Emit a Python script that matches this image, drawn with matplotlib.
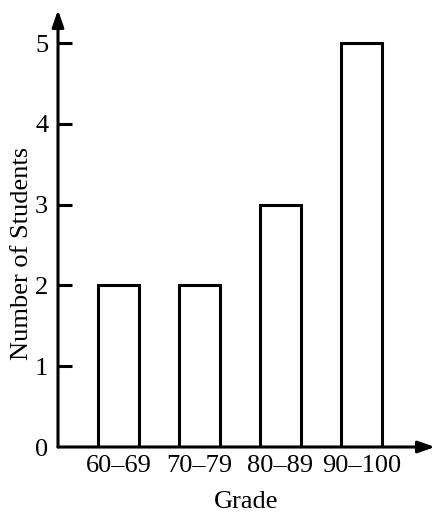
import matplotlib.pyplot as plt
import numpy as np

# データ
grades = ['60–69', '70–79', '80–89', '90–100']
students = [2, 2, 3, 5]
y_ticks = [0, 1, 2, 3, 4, 5]

plt.rcParams['font.family'] = ['Liberation Serif', 'DejaVu Serif']

fig = plt.figure(figsize=(4.42, 5.16), dpi=100)
ax = fig.add_axes([58 / 442, (516 - 447) / 516, (435 - 58) / 442, (447 - 10) / 516])

x = np.arange(len(grades))
ax.bar(x, students, width=0.5, facecolor='white', edgecolor='black', linewidth=2.2)

ax.set_xlim(-0.747, 3.907)
ax.set_ylim(0, 5.41)

# 軸は矢印で描く
for s in ax.spines.values():
    s.set_visible(False)
arrow = dict(arrowstyle='-|>,head_length=1.0,head_width=0.35', color='black', lw=2.2,
             shrinkA=0, shrinkB=0)
ax.annotate('', xy=(1.0, 0), xytext=(0, 0), xycoords='axes fraction', arrowprops=arrow)
ax.annotate('', xy=(0, 1.0), xytext=(0, 0), xycoords='axes fraction', arrowprops=arrow)

ax.set_xticks(x)
ax.set_xticklabels(grades)
ax.set_yticks(y_ticks)
ax.tick_params(axis='x', length=0, pad=6, labelsize=19)
ax.tick_params(axis='y', direction='in', length=10, width=2.2, pad=7, labelsize=19)
ax.yaxis.get_major_ticks()[0].tick1line.set_visible(False)

ax.set_xlabel('Grade', fontsize=19, labelpad=10)
ax.set_ylabel('Number of Students', fontsize=19)
ax.yaxis.set_label_coords(-0.066, 0.444)

fig.savefig('out.png', dpi=100)
plt.close()
